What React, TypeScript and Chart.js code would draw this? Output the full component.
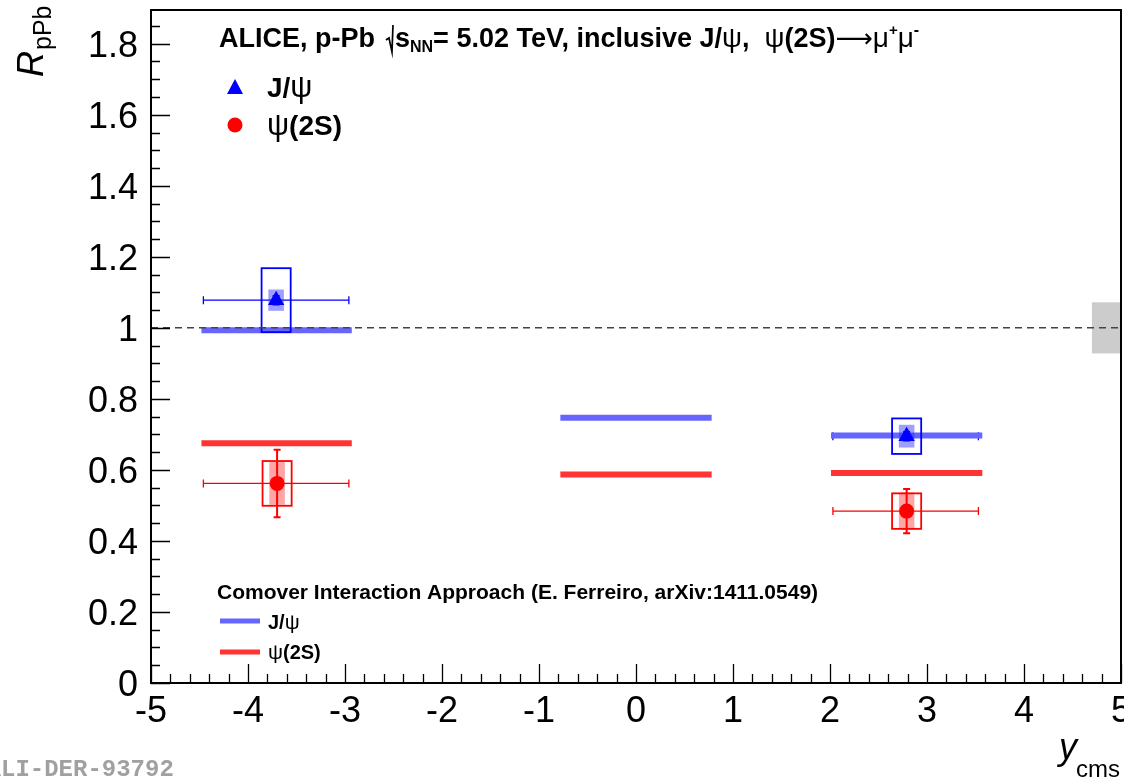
import { useEffect, useRef } from 'react';
import { Chart, registerables } from 'chart.js';
Chart.register(...registerables);

// ---- axes ----
const xMin = -5;
const xMax = 5;
const yMin = 0;
const yMax = 1.895;
const xTickValues = [-5, -4, -3, -2, -1, 0, 1, 2, 3, 4, 5];
const xTickLabels = ['-5', '-4', '-3', '-2', '-1', '0', '1', '2', '3', '4', '5'];
const yTickValues = [0, 0.2, 0.4, 0.6, 0.8, 1, 1.2, 1.4, 1.6, 1.8];
const yTickLabels = ['0', '0.2', '0.4', '0.6', '0.8', '1', '1.2', '1.4', '1.6', '1.8'];
const xMinorStep = 0.2;
const yMinorStep = 0.05;

// ---- J/psi data ----
const jpsiX = [-3.71, 2.79];
const jpsiY = [1.078, 0.695];
const jpsiXLow = [-4.46, 2.03];
const jpsiXHigh = [-2.96, 3.53];
const jpsiStat = [0.012, 0.012];
const jpsiSysUncorr = [0.09, 0.05];
const jpsiSysCorr = [0.03, 0.032];

// ---- psi(2S) data ----
const psiX = [-3.7, 2.79];
const psiY = [0.562, 0.484];
const psiXLow = [-4.46, 2.03];
const psiXHigh = [-2.96, 3.53];
const psiStat = [0.095, 0.062];
const psiSysUncorr = [0.063, 0.05];
const psiSysCorr = [0.06, 0.052];

// ---- theory (Comover Interaction Approach) ----
const theoryXLow = [-4.48, -0.78, 2.01];
const theoryXHigh = [-2.93, 0.78, 3.57];
const jpsiTheory = [0.993, 0.747, 0.697];
const psiTheory = [0.675, 0.587, 0.591];

// ---- global uncertainty ----
const globalCenter = 1;
const globalUnc = 0.072;
const globalBoxX = [4.7, 5];

const BLUE = '#0000ff';
const RED = '#ff0000';
const TH_BLUE = '#6666ff';
const TH_RED = '#ff3333';
const F = '"Liberation Sans", Arial, sans-serif';

type Seg = { t: string; font: string; dy?: number; dx?: number };
function drawSegs(ctx: CanvasRenderingContext2D, x: number, y: number, segs: Seg[]) {
  let cx = x;
  for (const s of segs) {
    ctx.font = s.font;
    cx += s.dx || 0;
    ctx.fillText(s.t, cx, y + (s.dy || 0));
    cx += ctx.measureText(s.t).width;
  }
  return cx;
}

const rootPlugin = {
  id: 'rootStyle',
  beforeDatasetsDraw(chart: any) {
    const ctx: CanvasRenderingContext2D = chart.ctx;
    const xs = chart.scales.x;
    const ys = chart.scales.y;
    ctx.save();
    // global uncertainty box
    ctx.fillStyle = '#cccccc';
    const gx0 = xs.getPixelForValue(globalBoxX[0]);
    const gx1 = xs.getPixelForValue(globalBoxX[1]);
    const gy0 = ys.getPixelForValue(globalCenter + globalUnc);
    const gy1 = ys.getPixelForValue(globalCenter - globalUnc);
    ctx.fillRect(gx0, gy0, gx1 - gx0, gy1 - gy0);
    // horizontal x-error bars
    const drawX = (X: number[], Y: number[], lo: number[], hi: number[], col: string) => {
      ctx.strokeStyle = col;
      ctx.lineWidth = 1.3;
      for (let i = 0; i < X.length; i++) {
        const y = ys.getPixelForValue(Y[i]);
        const a = xs.getPixelForValue(lo[i]);
        const b = xs.getPixelForValue(hi[i]);
        ctx.beginPath();
        ctx.moveTo(a, y);
        ctx.lineTo(b, y);
        ctx.moveTo(a, y - 4);
        ctx.lineTo(a, y + 4);
        ctx.moveTo(b, y - 4);
        ctx.lineTo(b, y + 4);
        ctx.stroke();
      }
    };
    drawX(jpsiX, jpsiY, jpsiXLow, jpsiXHigh, BLUE);
    drawX(psiX, psiY, psiXLow, psiXHigh, RED);
    ctx.restore();
  },
  beforeDatasetDraw(chart: any, args: any) {
    const ds = chart.data.datasets[args.index];
    if (ds.label !== 'psiMarkers') return;
    const ctx: CanvasRenderingContext2D = chart.ctx;
    const xs = chart.scales.x;
    const ys = chart.scales.y;
    ctx.save();
    const drawBoxes = (
      X: number[], Y: number[], stat: number[], sysU: number[], sysC: number[],
      col: string, fill: string
    ) => {
      for (let i = 0; i < X.length; i++) {
        const cx = xs.getPixelForValue(X[i]);
        // correlated (filled) box
        const fx0 = xs.getPixelForValue(X[i] - 0.08);
        const fx1 = xs.getPixelForValue(X[i] + 0.08);
        const fy0 = ys.getPixelForValue(Y[i] + sysC[i]);
        const fy1 = ys.getPixelForValue(Y[i] - sysC[i]);
        ctx.fillStyle = fill;
        ctx.fillRect(fx0, fy0, fx1 - fx0, fy1 - fy0);
        // uncorrelated (open) box
        const ox0 = xs.getPixelForValue(X[i] - 0.15);
        const ox1 = xs.getPixelForValue(X[i] + 0.15);
        const oy0 = ys.getPixelForValue(Y[i] + sysU[i]);
        const oy1 = ys.getPixelForValue(Y[i] - sysU[i]);
        ctx.strokeStyle = col;
        ctx.lineWidth = 1.8;
        ctx.strokeRect(ox0, oy0, ox1 - ox0, oy1 - oy0);
        // stat error bar
        const sy0 = ys.getPixelForValue(Y[i] + stat[i]);
        const sy1 = ys.getPixelForValue(Y[i] - stat[i]);
        ctx.lineWidth = 2;
        ctx.beginPath();
        ctx.moveTo(cx, sy0);
        ctx.lineTo(cx, sy1);
        ctx.moveTo(cx - 3.5, sy0);
        ctx.lineTo(cx + 3.5, sy0);
        ctx.moveTo(cx - 3.5, sy1);
        ctx.lineTo(cx + 3.5, sy1);
        ctx.stroke();
      }
    };
    drawBoxes(jpsiX, jpsiY, jpsiStat, jpsiSysUncorr, jpsiSysCorr, BLUE, 'rgba(40,40,255,0.45)');
    drawBoxes(psiX, psiY, psiStat, psiSysUncorr, psiSysCorr, RED, 'rgba(255,40,40,0.42)');
    ctx.restore();
  },
  afterDatasetsDraw(chart: any) {
    const ctx: CanvasRenderingContext2D = chart.ctx;
    const xs = chart.scales.x;
    const ys = chart.scales.y;
    const { left, right, top, bottom } = chart.chartArea;
    ctx.save();
    // frame
    ctx.strokeStyle = '#000';
    ctx.lineWidth = 2;
    ctx.strokeRect(left, top, right - left, bottom - top);
    // y ticks
    ctx.lineWidth = 1.3;
    ctx.beginPath();
    for (let v = yMin; v <= yMax + 1e-9; v += yMinorStep) {
      const y = Math.round(ys.getPixelForValue(v)) + 0.5;
      const major = Math.abs(v / 0.2 - Math.round(v / 0.2)) < 1e-6;
      ctx.moveTo(left, y);
      ctx.lineTo(left + (major ? 19 : 9), y);
    }
    // x ticks
    for (let v = xMin; v <= xMax + 1e-9; v += xMinorStep) {
      const x = Math.round(xs.getPixelForValue(v)) + 0.5;
      const major = Math.abs(v - Math.round(v)) < 1e-6;
      ctx.moveTo(x, bottom);
      ctx.lineTo(x, bottom - (major ? 19 : 9));
    }
    ctx.stroke();
    // tick labels
    ctx.fillStyle = '#000';
    ctx.font = `36px ${F}`;
    ctx.textAlign = 'right';
    ctx.textBaseline = 'alphabetic';
    yTickValues.forEach((v, i) => {
      ctx.fillText(yTickLabels[i], 138, ys.getPixelForValue(v) + 13);
    });
    ctx.textAlign = 'center';
    xTickValues.forEach((v, i) => {
      ctx.fillText(xTickLabels[i], xs.getPixelForValue(v), 722);
    });
    ctx.textAlign = 'left';

    // y axis title
    ctx.save();
    ctx.translate(43, 77);
    ctx.rotate(-Math.PI / 2);
    ctx.font = `italic 36px ${F}`;
    ctx.fillText('R', 0, 0);
    const wR = ctx.measureText('R').width;
    ctx.font = `25px ${F}`;
    ctx.fillText('pPb', wR + 1, 8);
    ctx.restore();

    // x axis title
    ctx.font = `24px ${F}`;
    const wc = ctx.measureText('cms').width;
    ctx.fillText('cms', 1120 - wc, 777);
    ctx.font = `italic 36px ${F}`;
    const wy = ctx.measureText('y').width;
    ctx.fillText('y', 1120 - wc - wy + 1, 759);

    // title
    const B = `bold 27px ${F}`;
    const Rg = `28px ${F}`;
    let cx = drawSegs(ctx, 219, 47, [{ t: 'ALICE, p-Pb', font: B }]);
    // radical sign
    const rx = cx + 13;
    ctx.strokeStyle = '#000';
    ctx.lineWidth = 1.7;
    ctx.beginPath();
    ctx.moveTo(rx - 2, 40);
    ctx.lineTo(rx + 1, 38);
    ctx.lineTo(rx + 4, 52);
    ctx.lineTo(rx + 5, 25);
    ctx.stroke();
    drawSegs(ctx, rx + 7, 47, [
      { t: 's', font: B },
      { t: 'NN', font: `bold 16px ${F}`, dy: 5 },
      { t: '= 5.02 TeV, inclusive J/', font: B },
      { t: 'ψ', font: Rg },
      { t: ',  ', font: B },
      { t: 'ψ', font: Rg },
      { t: '(2S)', font: B },
      { t: '⟶', font: `26px "DejaVu Sans", ${F}` },
      { t: 'μ', font: Rg },
      { t: '+', font: `bold 15px ${F}`, dy: -12 },
      { t: 'μ', font: Rg },
      { t: '-', font: `bold 16px ${F}`, dy: -12 },
    ]);

    // top legend
    ctx.fillStyle = BLUE;
    ctx.beginPath();
    ctx.moveTo(235, 79);
    ctx.lineTo(243, 94);
    ctx.lineTo(227, 94);
    ctx.closePath();
    ctx.fill();
    ctx.fillStyle = RED;
    ctx.beginPath();
    ctx.arc(235, 125, 7.5, 0, Math.PI * 2);
    ctx.fill();
    ctx.fillStyle = '#000';
    drawSegs(ctx, 267, 97, [
      { t: 'J/', font: `bold 28px ${F}` },
      { t: 'ψ', font: `31px ${F}` },
    ]);
    drawSegs(ctx, 267, 135, [
      { t: 'ψ', font: `31px ${F}` },
      { t: '(2S)', font: `bold 28px ${F}` },
    ]);

    // bottom legend (theory)
    ctx.font = `bold 21px ${F}`;
    ctx.fillText('Comover Interaction Approach (E. Ferreiro, arXiv:1411.0549)', 217, 599);
    ctx.lineWidth = 5;
    ctx.strokeStyle = TH_BLUE;
    ctx.beginPath();
    ctx.moveTo(220, 621);
    ctx.lineTo(260, 621);
    ctx.stroke();
    ctx.strokeStyle = TH_RED;
    ctx.beginPath();
    ctx.moveTo(220, 652);
    ctx.lineTo(260, 652);
    ctx.stroke();
    drawSegs(ctx, 268, 629, [
      { t: 'J/', font: `bold 20px ${F}` },
      { t: 'ψ', font: `21px ${F}` },
    ]);
    drawSegs(ctx, 268, 659, [
      { t: 'ψ', font: `21px ${F}` },
      { t: '(2S)', font: `bold 20px ${F}` },
    ]);

    // figure id
    ctx.fillStyle = '#a0a0a0';
    ctx.font = `bold 24px "Liberation Mono", "DejaVu Sans Mono", monospace`;
    const wa = ctx.measureText('A').width;
    ctx.fillText('ALI-DER-93792', -wa + 1, 776);
    ctx.restore();
  },
};

export default function App() {
  const ref = useRef<HTMLCanvasElement | null>(null);
  useEffect(() => {
    document.body.style.margin = '0';
    if (!ref.current) return;
    const theoryDatasets: any[] = [];
    theoryXLow.forEach((lo, i) => {
      theoryDatasets.push({
        label: 'jpsiTheory' + i,
        data: [{ x: lo, y: jpsiTheory[i] }, { x: theoryXHigh[i], y: jpsiTheory[i] }],
        showLine: true,
        borderColor: TH_BLUE,
        borderWidth: 6,
        pointRadius: 0,
        order: 5,
      });
      theoryDatasets.push({
        label: 'psiTheory' + i,
        data: [{ x: lo, y: psiTheory[i] }, { x: theoryXHigh[i], y: psiTheory[i] }],
        showLine: true,
        borderColor: TH_RED,
        borderWidth: 6,
        pointRadius: 0,
        order: 5,
      });
    });
    const chart = new Chart(ref.current, {
      type: 'scatter',
      data: {
        datasets: [
          ...theoryDatasets,
          {
            label: 'psiMarkers',
            data: psiX.map((x, i) => ({ x, y: psiY[i] })),
            pointStyle: 'circle',
            pointRadius: 7.5,
            backgroundColor: RED,
            borderWidth: 0,
            order: 2,
          },
          {
            label: 'jpsiMarkers',
            data: jpsiX.map((x, i) => ({ x, y: jpsiY[i] })),
            pointStyle: 'triangle',
            pointRadius: 9.5,
            backgroundColor: BLUE,
            borderWidth: 0,
            order: 1,
          },
          {
            label: 'unity',
            data: [{ x: xMin, y: 1 }, { x: xMax, y: 1 }],
            showLine: true,
            borderColor: '#444444',
            borderWidth: 1.5,
            borderDash: [7, 5],
            pointRadius: 0,
            order: 0,
          },
        ],
      },
      options: {
        responsive: false,
        animation: false,
        layout: { autoPadding: false, padding: { left: 151, right: 3, top: 10, bottom: 97 } },
        scales: {
          x: { type: 'linear', min: xMin, max: xMax, display: false },
          y: { type: 'linear', min: yMin, max: yMax, display: false },
        },
        plugins: { legend: { display: false }, tooltip: { enabled: false } },
      },
      plugins: [rootPlugin],
    });
    return () => chart.destroy();
  }, []);
  return (
    <div style={{ width: 1124, height: 780, background: '#fff' }}>
      <canvas ref={ref} width={1124} height={780} style={{ display: 'block' }} />
    </div>
  );
}
